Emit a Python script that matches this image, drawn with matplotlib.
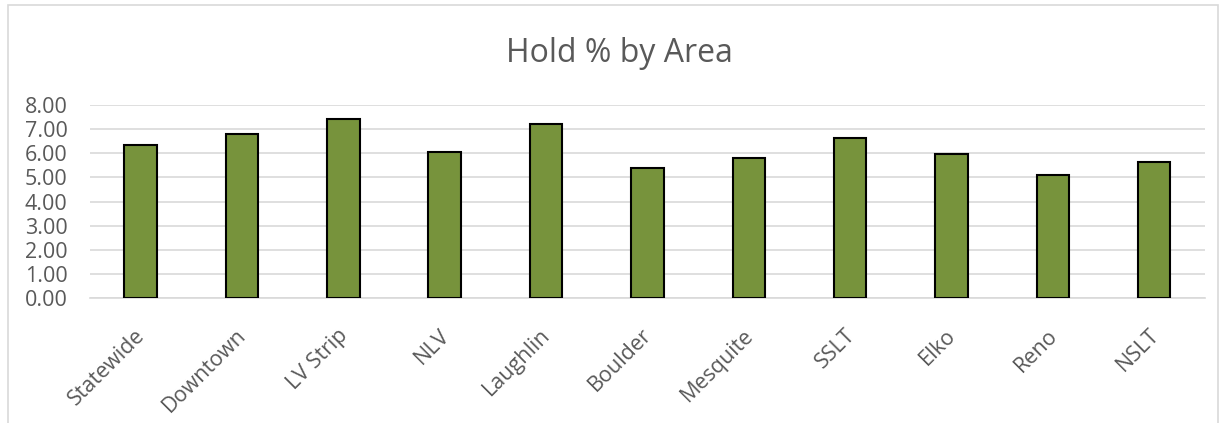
import numpy as np
import matplotlib.pyplot as plt
import matplotlib.transforms as mtransforms
from matplotlib.patches import Rectangle

areas = ["Statewide", "Downtown", "LV Strip", "NLV", "Laughlin", "Boulder",
         "Mesquite", "SSLT", "Elko", "Reno", "NSLT"]
hold_pct = [6.35, 6.79, 7.41, 6.07, 7.21, 5.41, 5.82, 6.64, 5.96, 5.10, 5.64]
y_ticks = [0, 1, 2, 3, 4, 5, 6, 7, 8]

plt.rcParams["font.family"] = ["Open Sans", "DejaVu Sans"]
text_color = "#595959"

fig = plt.figure(figsize=(12.27, 4.23), dpi=100)
ax = fig.add_axes([0.0733, 0.2948, 0.9087, 0.457])

x = np.arange(len(areas))
ax.bar(x, hold_pct, width=0.32, color="#77933c", edgecolor="black", linewidth=1.5, zorder=3)

ax.set_xlim(-0.5, len(areas) - 0.5)
ax.set_ylim(0, 8)
ax.set_yticks(y_ticks)
ax.set_yticklabels([f"{v:.2f}" for v in y_ticks], fontsize=15.5, color=text_color)
ax.set_xticks(x)
ax.set_xticklabels(areas, rotation=45, ha="right", rotation_mode="anchor",
                   fontsize=15.5, color=text_color)
ax.tick_params(axis="x", length=0, pad=19)
ax.tick_params(axis="y", length=0, pad=16)

# nudge rotated labels left so their ends sit under the bars
shift = mtransforms.ScaledTranslation(-0.06, 0, fig.dpi_scale_trans)
for lbl in ax.get_xticklabels():
    lbl.set_transform(lbl.get_transform() + shift)

ax.grid(True, axis="y", color="#d9d9d9", linewidth=1.2, zorder=0)
for side in ["top", "right", "left"]:
    ax.spines[side].set_visible(False)
ax.spines["bottom"].set_color("#d9d9d9")
ax.spines["bottom"].set_linewidth(1.2)

fig.text(0.505, 0.853, "Hold % by Area", ha="center", va="baseline",
         fontsize=23, color=text_color)

# chart border
fig.patches.append(Rectangle((0.0065, -0.05), 0.986, 1.037, transform=fig.transFigure,
                             fill=False, edgecolor="#d9d9d9", linewidth=1.2))

fig.savefig("out.png", dpi=100)
